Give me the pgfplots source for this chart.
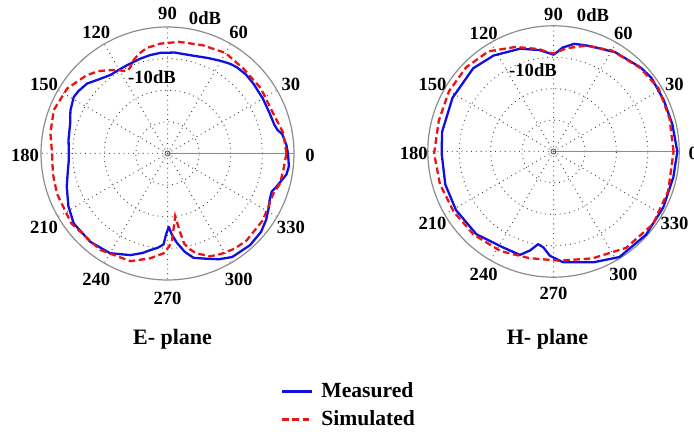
\documentclass[border=0pt]{standalone}
\usepackage{fontspec}
\setmainfont{Liberation Serif}
\usepackage{pgfplots}
\usepackage{pgfplotstable}
\pgfplotsset{compat=1.18}
\usepgfplotslibrary{polar}

\definecolor{measblue}{RGB}{15,15,225}
\definecolor{simred}{RGB}{235,20,20}

% angle (deg), level (dB)
\pgfplotstableread{
ang db
0 -1.9
4 -2.3
9.6 -3.2
12 -4.4
15 -5.0
22 -5.3
30 -5.2
39 -5.0
45 -4.8
51 -5.0
55 -5.4
60 -6.2
67 -7.2
75 -8.0
86 -8.0
94 -8.1
100 -8.4
106 -8.8
115 -9.3
120 -9.4
126 -9.3
133 -8.0
139 -6.3
145 -5.6
149 -5.4
156 -6.4
163 -7.8
172 -8.4
180 -8.8
184 -8.7
190 -8.0
198 -6.5
208 -4.5
216.7 -3.0
228.8 -2.9
240 -3.6
250 -5.8
256 -7.6
260 -9.0
264 -10.0
267.5 -11.2
269 -14.4
271 -16.8
273 -14.4
276 -11.6
280 -8.4
284 -6.0
290 -4.6
296 -2.8
302 -1.4
312 -1.0
320 -1.4
326 -2.4
332 -3.7
336 -4.6
340 -4.9
343 -4.0
350 -1.8
354 -1.4
360 -1.9
}\Emeas

\pgfplotstableread{
ang db
0 -2.4
10 -2.8
20 -4.2
35 -4.0
48 -4.0
60 -3.3
72 -4.0
84 -4.5
94 -5.2
101 -6.0
106 -7.2
110 -8.6
113 -10.2
116 -11.0
118 -10.4
121 -9.2
124.5 -8.0
130 -6.0
136 -4.4
147 -2.2
159 -1.5
170 -2.4
180 -3.5
190 -3.2
200 -2.8
216 -2.4
235 -2.8
251 -4.0
260.6 -6.4
267.7 -8.4
271 -10.6
273 -12.6
275 -16.8
277 -20.0
279 -15.0
280.5 -11.0
283 -9.0
286 -7.2
292.5 -4.8
298 -4.0
305 -3.2
312 -2.8
325 -3.2
333 -4.0
339 -4.2
345 -3.2
352 -3.0
360 -2.4
}\Esim

\pgfplotstableread{
ang db
0 -0.6
13 -1.2
25 -1.3
37 -1.0
44 -1.5
58 -2.8
71 -4.5
79 -5.1
85 -6.8
88 -8.4
90 -9.2
93 -8.6
98 -7.4
108 -5.6
122 -4.0
134 -3.2
152 -3.6
170 -4.0
181 -4.4
197 -4.0
211 -3.8
227 -4.0
242 -5.5
252 -5.4
256.6 -7.6
260.6 -10.1
264 -9.3
268 -6.8
275 -4.6
290 -2.5
302 -0.4
318 -0.4
333 -0.8
348 -1.0
360 -0.6
}\Hmeas

\pgfplotstableread{
ang db
0 -1.8
16 -1.6
31 -1.0
44 -1.7
60 -2.9
73 -4.8
83 -6.9
88 -8.4
90 -8.8
93 -8.4
98 -7.1
110 -4.6
123 -2.0
136 -1.4
150 -1.6
165 -2.2
181 -2.0
196 -2.4
211 -2.9
226 -3.3
242 -4.1
257 -5.2
273 -5.2
290 -3.8
307 -1.6
324 -0.8
341 -1.4
360 -1.8
}\Hsim

\pgfplotsset{
  pat/.style={
    scale only axis,
    ymin=0, ymax=40,
    xtick={0,30,...,330},
    xticklabels={0,30,60,90,120,150,180,210,240,270,300,330},
    ytick={10,20,30},
    yticklabel style={opacity=0},
    grid=major,
    major grid style={dotted, black!75, line width=0.5pt},
    axis line style={black!45, line width=0.6pt},
    major tick length=0pt,
    xticklabel style={font=\bfseries\fontsize{9.3}{10}\selectfont,
      anchor=center, shift={(\tick:8pt)}, yshift=-1.2pt},
  },
  meas/.style={measblue, line width=1.15pt, line join=round},
  sim/.style={simred, line width=1.15pt, dash pattern=on 3.3pt off 1.8pt},
}

\begin{document}
\begin{tikzpicture}
\path[use as bounding box] (0,0) rectangle (347pt,216pt);

\begin{polaraxis}[pat, at={(83.75pt,139.25pt)}, anchor=center,
    width=126.5pt, height=126.5pt,
    legend style={at={(0.946,-0.496)}, anchor=west, draw=none, fill=none,
      font=\bfseries\fontsize{10.8}{12}\selectfont, row sep=2pt,
      inner sep=0pt, nodes={inner sep=1.5pt}},
    legend cell align=left,
    legend image code/.code={\draw[#1, line width=1.5pt] (0pt,0pt) -- (15pt,0pt); \path (17.5pt,0pt);}]
  \addplot[meas] table[x=ang, y expr=\thisrow{db}+40] {\Emeas};
  \addlegendentry{Measured}
  \addplot[sim] table[x=ang, y expr=\thisrow{db}+40] {\Esim};
  \addlegendentry{Simulated}
  \node[circle, draw=black!70, inner sep=0.9pt] at (axis cs:0,0) {};
\end{polaraxis}

\begin{polaraxis}[pat, at={(276.75pt,140.25pt)}, anchor=center,
    width=125.7pt, height=125.7pt,
    xticklabel style={shift={(\tick:-1pt)}}]
  \addplot[meas] table[x=ang, y expr=\thisrow{db}+40] {\Hmeas};
  \addplot[sim] table[x=ang, y expr=\thisrow{db}+40] {\Hsim};
  \node[circle, draw=black!70, inner sep=0.9pt] at (axis cs:0,0) {};
\end{polaraxis}

\begin{scope}[font=\bfseries\fontsize{9.3}{10}\selectfont]
  \node at (102.5pt,207pt) {0dB};
  \node at (76pt,177.5pt) {-10dB};
  \node at (296.5pt,208.5pt) {0dB};
  \node at (266.5pt,181pt) {-10dB};
\end{scope}

\begin{scope}[font=\bfseries\fontsize{11}{13}\selectfont]
  \node[anchor=base] at (86.25pt,43.85pt) {E- plane};
  \node[anchor=base] at (273.75pt,43.85pt) {H- plane};
\end{scope}
\end{tikzpicture}
\end{document}
